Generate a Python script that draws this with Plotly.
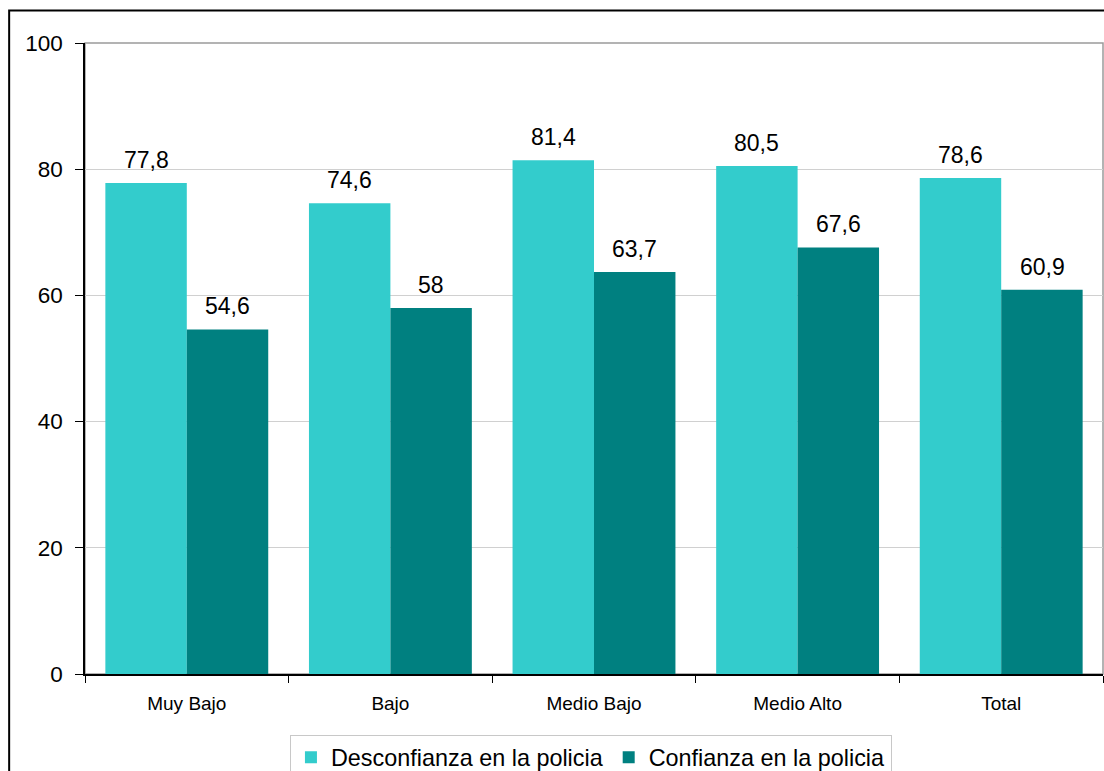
import plotly.graph_objects as go

categories = ["Muy Bajo", "Bajo", "Medio Bajo", "Medio Alto", "Total"]
desconfianza = [77.8, 74.6, 81.4, 80.5, 78.6]
confianza = [54.6, 58, 63.7, 67.6, 60.9]
y_ticks = [0, 20, 40, 60, 80, 100]

FONT = "Liberation Sans, Arial, sans-serif"

def fmt(v):
    s = ("%.1f" % v).rstrip("0").rstrip(".")
    return s.replace(".", ",")

fig = go.Figure()
fig.add_trace(go.Bar(
    name="Desconfianza en la policia", x=categories, y=desconfianza,
    marker=dict(color="#33CCCC", line=dict(width=0)),
))
fig.add_trace(go.Bar(
    name="Confianza en la policia", x=categories, y=confianza,
    marker=dict(color="#008080", line=dict(width=0)),
))

annotations = []
for series, shift in ((desconfianza, -40.8), (confianza, 40.8)):
    for c, v in zip(categories, series):
        annotations.append(dict(
            x=c, y=v, xref="x", yref="y", text=fmt(v), showarrow=False,
            xshift=shift, yshift=8, yanchor="bottom", xanchor="center",
            font=dict(size=23, family=FONT, color="#000000"),
        ))

fig.update_layout(
    width=1104, height=800,
    margin=dict(l=85, r=1, t=43, b=126, pad=0),
    paper_bgcolor="white", plot_bgcolor="white",
    barmode="group", bargap=0.2, bargroupgap=0,
    font=dict(family=FONT, color="#000000"),
    showlegend=True,
    annotations=annotations,
    legend=dict(
        orientation="h", x=0.497, xanchor="center", y=-0.096, yanchor="top",
        font=dict(size=23.4, family=FONT, color="#000000"),
        bordercolor="#C8C8C8", borderwidth=1, bgcolor="white",
        traceorder="normal", itemwidth=30,
    ),
    xaxis=dict(
        showline=True, linecolor="#000000", linewidth=1.5,
        ticks="outside", ticklen=7, tickcolor="#000000", tickson="boundaries",
        tickfont=dict(size=19, family=FONT, color="#000000"),
        ticklabelstandoff=11, automargin=False,
        showgrid=False,
    ),
    yaxis=dict(
        range=[0, 100], tickvals=y_ticks,
        showline=True, linecolor="#000000", linewidth=1.5,
        ticks="outside", ticklen=8, tickcolor="#000000",
        tickfont=dict(size=22.5, family=FONT, color="#000000"),
        ticklabelstandoff=8, automargin=False,
        showgrid=True, gridcolor="#D0D0D0", gridwidth=1,
        zeroline=False,
    ),
    shapes=[
        dict(type="rect", xref="paper", yref="paper", x0=0, y0=0, x1=1, y1=1,
             line=dict(color="#9A9A9A", width=1.5), layer="below"),
        dict(type="rect", xref="paper", yref="paper", x0=-0.0745, y0=-0.25,
             x1=1.05, y1=1.0515, line=dict(color="#000000", width=2), layer="above"),
    ],
)

fig.write_html(
    "out.html",
    config={"displayModeBar": False},
    post_script="document.body.style.margin='0';document.body.style.overflow='hidden';",
)
